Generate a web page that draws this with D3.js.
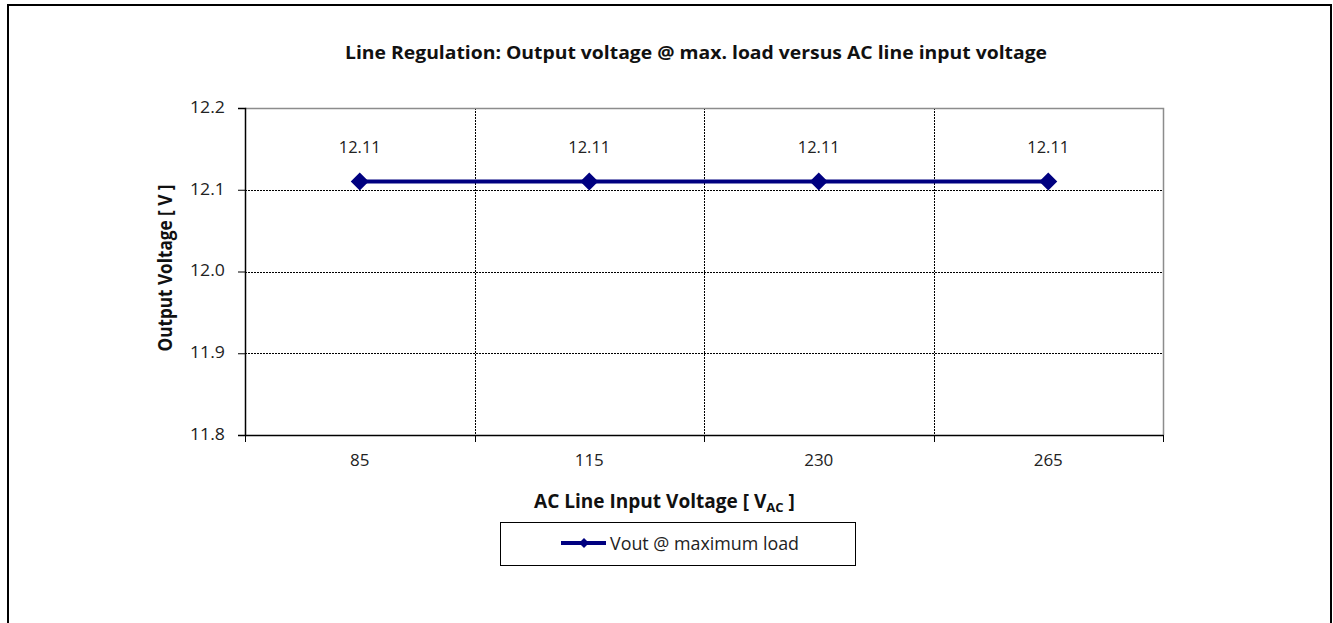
<!DOCTYPE html>
<html><head><meta charset="utf-8">
<script src="https://cdn.jsdelivr.net/npm/d3@7"></script>
<style>
html,body{margin:0;padding:0;background:#fff;}
svg{display:block;font-family:"Open Sans", sans-serif;}
</style></head>
<body>
<svg id="c" width="1333" height="623"></svg>
<script>
const categories = ["85", "115", "230", "265"];
const vout = [12.11, 12.11, 12.11, 12.11];
const yTicks = [11.8, 11.9, 12.0, 12.1, 12.2];
const seriesName = "Vout @ maximum load";
const title = "Line Regulation: Output voltage @ max. load versus AC line input voltage";

const svg = d3.select("#c");
const m = {left: 245, top: 108, right: 1163, bottom: 435};
const navy = "#000080";
const FONT = "'Open Sans', sans-serif";

// outer frame
svg.append("rect").attr("x", 8).attr("y", 5).attr("width", 1323).attr("height", 640)
  .attr("fill", "none").attr("stroke", "#000").attr("stroke-width", 2);

const x = d3.scaleBand().domain(categories).range([m.left, m.right]).padding(0);
const y = d3.scaleLinear().domain([11.8, 12.2]).range([m.bottom, m.top]);

// grid horizontal
svg.append("g").selectAll("line").data(yTicks.filter(t => t > 11.8 && t < 12.2)).join("line")
  .attr("x1", m.left).attr("x2", m.right)
  .attr("y1", d => Math.round(y(d)) + 0.5).attr("y2", d => Math.round(y(d)) + 0.5)
  .attr("stroke", "#000").attr("stroke-width", 1).attr("stroke-dasharray", "2,1");
// grid vertical at band boundaries
const bounds = categories.slice(1).map(c => x(c));
svg.append("g").selectAll("line").data(bounds).join("line")
  .attr("x1", d => Math.round(d) + 0.5).attr("x2", d => Math.round(d) + 0.5)
  .attr("y1", m.top).attr("y2", m.bottom)
  .attr("stroke", "#000").attr("stroke-width", 1).attr("stroke-dasharray", "2,1");

// plot border top/right gray
svg.append("path").attr("d", `M${m.left},${m.top + 0.5}H${m.right + 0.5}V${m.bottom}`)
  .attr("fill", "none").attr("stroke", "#8c8c8c").attr("stroke-width", 1.5);

// y axis
const yAxis = d3.axisLeft(y).tickValues(yTicks).tickFormat(d3.format(".1f")).tickSizeOuter(0).tickSize(7).tickPadding(13);
const gy = svg.append("g").attr("transform", `translate(${m.left},0)`).call(yAxis);
gy.select(".domain").attr("stroke", "#000").attr("stroke-width", 1.5);
gy.selectAll(".tick line").attr("stroke", "#000").attr("stroke-width", 1);
gy.selectAll(".tick text").attr("font-size", 17).attr("fill", "#222").attr("font-family", FONT)
  .attr("dy", "0.25em").attr("textLength", 35).attr("lengthAdjust", "spacingAndGlyphs");

// x axis
const xAxis = d3.axisBottom(x).tickSize(0).tickPadding(19);
const gx = svg.append("g").attr("transform", `translate(0,${m.bottom})`).call(xAxis);
gx.select(".domain").attr("stroke", "#000").attr("stroke-width", 1.5);
gx.selectAll(".tick text").attr("font-size", 17).attr("fill", "#222").attr("font-family", FONT);
// x tick marks at band boundaries
const xb = [m.left, ...bounds, m.right];
gx.append("g").selectAll("line").data(xb).join("line")
  .attr("x1", d => Math.round(d) + 0.5).attr("x2", d => Math.round(d) + 0.5)
  .attr("y1", 0).attr("y2", 7).attr("stroke", "#000").attr("stroke-width", 1);

// series line
const cx = c => x(c) + x.bandwidth() / 2;
const line = d3.line().x((d, i) => cx(categories[i])).y(d => y(d));
svg.append("path").datum(vout).attr("d", line)
  .attr("fill", "none").attr("stroke", navy).attr("stroke-width", 4);
svg.append("g").selectAll("path").data(vout).join("path")
  .attr("transform", (d, i) => `translate(${cx(categories[i])},${y(d)})`)
  .attr("d", "M0,-9L9,0L0,9L-9,0Z").attr("fill", navy);

// data labels
svg.append("g").selectAll("text").data(vout).join("text")
  .attr("x", (d, i) => cx(categories[i])).attr("y", d => y(d) - 29)
  .attr("text-anchor", "middle").attr("font-size", 17).attr("fill", "#222")
  .attr("textLength", 42).attr("lengthAdjust", "spacingAndGlyphs")
  .text(d => d3.format(".2f")(d));

// title
svg.append("text").attr("x", 696).attr("y", 59).attr("text-anchor", "middle")
  .attr("font-size", 18).attr("font-weight", "bold").attr("fill", "#111")
  .attr("textLength", 702).attr("lengthAdjust", "spacingAndGlyphs").text(title);

// y label
svg.append("text").attr("transform", `translate(172,268) rotate(-90)`)
  .attr("text-anchor", "middle").attr("font-size", 19).attr("font-weight", "bold").attr("fill", "#111")
  .attr("textLength", 167).attr("lengthAdjust", "spacingAndGlyphs")
  .text("Output Voltage [ V ]");

// x label (fit to measured width)
const xg = svg.append("g");
const xl = xg.append("text").attr("x", 0).attr("y", 0)
  .attr("font-size", 19).attr("font-weight", "bold").attr("fill", "#111");
xl.append("tspan").text("AC Line Input Voltage [ V");
xl.append("tspan").attr("font-size", 13).attr("dy", 4).text("AC");
xl.append("tspan").attr("dy", -4).text(" ]");
const xw = xl.node().getBBox().width;
xg.attr("transform", `translate(534,508) scale(${261 / xw},1)`);

// legend
const lg = svg.append("g");
lg.append("rect").attr("x", 500.5).attr("y", 522.5).attr("width", 355).attr("height", 43)
  .attr("fill", "#fff").attr("stroke", "#000").attr("stroke-width", 1);
lg.append("line").attr("x1", 561).attr("x2", 606).attr("y1", 543).attr("y2", 543)
  .attr("stroke", navy).attr("stroke-width", 4);
lg.append("path").attr("transform", "translate(584,543)").attr("d", "M0,-5L5,0L0,5L-5,0Z").attr("fill", navy);
lg.append("text").attr("x", 610).attr("y", 550).attr("font-size", 18).attr("fill", "#222")
  .attr("textLength", 189).attr("lengthAdjust", "spacingAndGlyphs").text(seriesName);
</script>
</body></html>
